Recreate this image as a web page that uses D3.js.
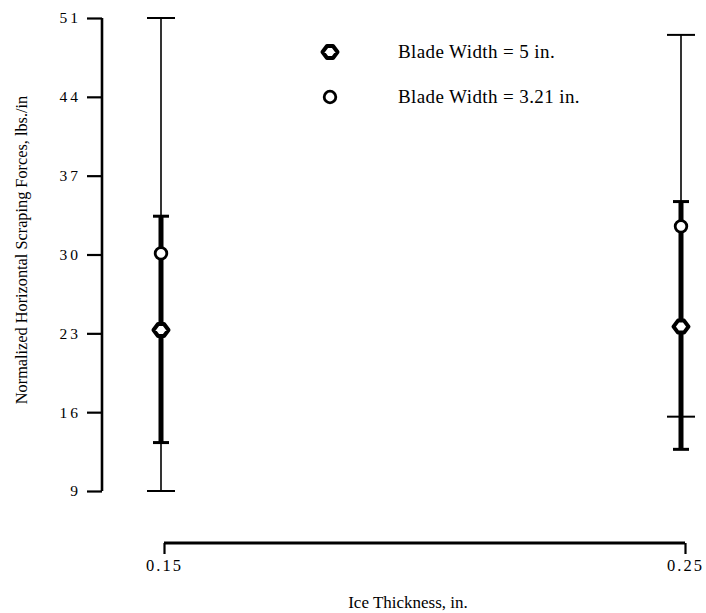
<!DOCTYPE html>
<html>
<head>
<meta charset="utf-8">
<script src="https://cdn.jsdelivr.net/npm/d3@7"></script>
<style>
  html, body { margin: 0; padding: 0; background: #fff; }
  svg { display: block; }
  text { font-family: "Liberation Serif", "Times New Roman", serif; fill: #000; }
</style>
</head>
<body>
<svg id="chart" width="706" height="613"></svg>
<script>
// Ice thickness levels (in.)
const thickness = [0.15, 0.25];
const xTickLabels = ["0.15", "0.25"];
const yTicks = [9, 16, 23, 30, 37, 44, 51];

// Blade width = 5 in.: mean with min / max range
const blade5Mean = [23.3, 23.6];
const blade5Low  = [13.3, 12.7];
const blade5High = [33.4, 34.7];

// Blade width = 3.21 in.: mean with min / max range
const blade321Mean = [30.1, 32.5];
const blade321Low  = [9, 15.6];
const blade321High = [51, 49.5];

const seriesNames = ["Blade Width = 5 in.", "Blade Width = 3.21 in."];

const svg = d3.select("#chart");

const y = d3.scaleLinear().domain([9, 51]).range([491, 18]);
const x = d3.scaleLinear().domain([0.15, 0.25]).range([161, 681]);
const xAxisScale = d3.scaleLinear().domain([0.15, 0.25]).range([164, 685]);

// Y axis
const yAxis = svg.append("g").attr("transform", "translate(102,0)")
  .call(d3.axisLeft(y).tickValues(yTicks).tickSize(15).tickPadding(6).tickFormat(d3.format("d")));
yAxis.select(".domain").attr("stroke", "#000").attr("stroke-width", 2.6)
  .attr("d", `M0,${y(51)}V${y(9)}`);
yAxis.selectAll(".tick line").attr("stroke", "#000").attr("stroke-width", 2.2);
yAxis.selectAll(".tick text").attr("font-size", 15.5).style("letter-spacing", "3px")
  .attr("font-family", "Liberation Serif, serif");

// X axis
const xAxis = svg.append("g").attr("transform", "translate(0,543)")
  .call(d3.axisBottom(xAxisScale).tickValues(thickness).tickSize(11).tickPadding(5)
    .tickFormat((d, i) => xTickLabels[i]));
xAxis.select(".domain").attr("stroke", "#000").attr("stroke-width", 3)
  .attr("d", `M${xAxisScale(0.15)},0H${xAxisScale(0.25)}`);
xAxis.selectAll(".tick line").attr("stroke", "#000").attr("stroke-width", 2.2);
xAxis.selectAll(".tick text").attr("font-size", 16.5).style("letter-spacing", "2px")
  .attr("font-family", "Liberation Serif, serif");

// Axis titles
svg.append("text").attr("x", 408).attr("y", 608).attr("text-anchor", "middle")
  .attr("font-size", 17).text("Ice Thickness, in.");
svg.append("text").attr("transform", "translate(27,250) rotate(-90)")
  .attr("text-anchor", "middle").attr("font-size", 16.3)
  .text("Normalized Horizontal Scraping Forces, lbs./in");

// Range bars
function rangeBars(low, high, lineW, capHalf, capW) {
  const g = svg.append("g");
  thickness.forEach((t, i) => {
    const cx = x(t);
    g.append("line").attr("x1", cx).attr("x2", cx)
      .attr("y1", y(high[i])).attr("y2", y(low[i]))
      .attr("stroke", "#000").attr("stroke-width", lineW);
    [low[i], high[i]].forEach(v => {
      g.append("line").attr("x1", cx - capHalf).attr("x2", cx + capHalf)
        .attr("y1", y(v)).attr("y2", y(v))
        .attr("stroke", "#000").attr("stroke-width", capW);
    });
  });
}
rangeBars(blade321Low, blade321High, 1.6, 14, 2);
rangeBars(blade5Low, blade5High, 5, 8, 3);

// Markers
function diamond(g, cx, cy) {
  g.append("path")
    .attr("d", `M${cx - 7.5},${cy} L${cx - 3},${cy - 6} L${cx + 3},${cy - 6} L${cx + 7.5},${cy} L${cx + 3},${cy + 6} L${cx - 3},${cy + 6} Z`)
    .attr("fill", "#fff").attr("stroke", "#000").attr("stroke-width", 4)
    .attr("stroke-linejoin", "round");
}
function circle(g, cx, cy) {
  g.append("circle").attr("cx", cx).attr("cy", cy).attr("r", 5.8)
    .attr("fill", "#fff").attr("stroke", "#000").attr("stroke-width", 2.8);
}
const mk = svg.append("g");
thickness.forEach((t, i) => {
  diamond(mk, x(t), y(blade5Mean[i]));
  circle(mk, x(t), y(blade321Mean[i]));
});

// Legend
const legend = svg.append("g");
diamond(legend, 330, 52);
circle(legend, 330, 97);
legend.append("text").attr("x", 398).attr("y", 58).attr("font-size", 19)
  .style("letter-spacing", "0.4px").text(seriesNames[0]);
legend.append("text").attr("x", 398).attr("y", 103).attr("font-size", 19)
  .style("letter-spacing", "0.4px").text(seriesNames[1]);
</script>
</body>
</html>
